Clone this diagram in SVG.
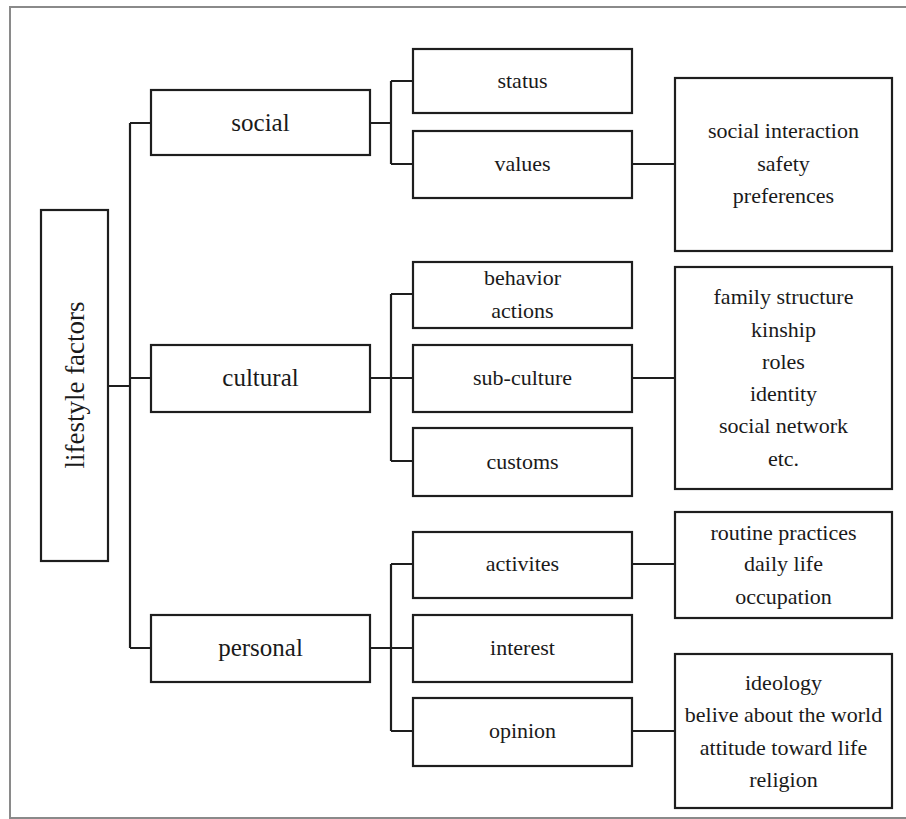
<svg xmlns="http://www.w3.org/2000/svg" width="906" height="819" viewBox="0 0 906 819">
  <style>
    .box { fill: #ffffff; stroke: #1e1e1e; stroke-width: 2.2; }
    .wire { fill: none; stroke: #1e1e1e; stroke-width: 2.2; }
    .frame { fill: none; stroke: #8a8a8a; stroke-width: 2; }
    text { font-family: "Liberation Serif", "Times New Roman", serif; fill: #1a1a1a; text-anchor: middle; }
    .t1 { font-size: 25px; }
    .t2 { font-size: 22px; }
    .t0 { font-size: 27px; }
  </style>
  <rect width="906" height="819" fill="#ffffff"/>
  <!-- outer frame (right side runs off the canvas) -->
  <rect class="frame" x="10" y="7" width="910" height="811"/>

  <!-- connectors -->
  <g id="connectors">
    <!-- root trunk -->
    <path class="wire" d="M108 386 H130 M130 123 V648 M130 123 H151 M130 378 H151 M130 648 H151"/>
    <!-- social bracket -->
    <path class="wire" d="M370 123 H391 M391 81 V164 M391 81 H413 M391 164 H413"/>
    <!-- cultural bracket -->
    <path class="wire" d="M370 378 H391 M391 294 V461 M391 294 H413 M391 378 H413 M391 461 H413"/>
    <!-- personal bracket -->
    <path class="wire" d="M370 648 H391 M391 564 V731 M391 564 H413 M391 648 H413 M391 731 H413"/>
    <!-- detail links -->
    <path class="wire" d="M632 164 H675 M632 378 H675 M632 564 H675 M632 731 H675"/>
  </g>

  <g id="lifestyle-factors">
    <rect class="box" x="41" y="210" width="67" height="351"/>
    <text class="t0" transform="translate(84 385) rotate(-90)">lifestyle factors</text>
  </g>

  <g id="social">
    <rect class="box" x="151" y="90" width="219" height="65"/>
    <text class="t1" x="260.5" y="131">social</text>
  </g>
  <g id="cultural">
    <rect class="box" x="151" y="345" width="219" height="67"/>
    <text class="t1" x="260.5" y="386">cultural</text>
  </g>
  <g id="personal">
    <rect class="box" x="151" y="615" width="219" height="67"/>
    <text class="t1" x="260.5" y="656">personal</text>
  </g>

  <g id="status">
    <rect class="box" x="413" y="49" width="219" height="64"/>
    <text class="t2" x="522.5" y="88">status</text>
  </g>
  <g id="values">
    <rect class="box" x="413" y="131" width="219" height="67"/>
    <text class="t2" x="522.5" y="171">values</text>
  </g>
  <g id="behavior">
    <rect class="box" x="413" y="262" width="219" height="66"/>
    <text class="t2" x="522.5" y="285">behavior</text>
    <text class="t2" x="522.5" y="318">actions</text>
  </g>
  <g id="sub-culture">
    <rect class="box" x="413" y="345" width="219" height="67"/>
    <text class="t2" x="522.5" y="385">sub-culture</text>
  </g>
  <g id="customs">
    <rect class="box" x="413" y="428" width="219" height="68"/>
    <text class="t2" x="522.5" y="469">customs</text>
  </g>
  <g id="activites">
    <rect class="box" x="413" y="532" width="219" height="66"/>
    <text class="t2" x="522.5" y="571">activites</text>
  </g>
  <g id="interest">
    <rect class="box" x="413" y="615" width="219" height="67"/>
    <text class="t2" x="522.5" y="655">interest</text>
  </g>
  <g id="opinion">
    <rect class="box" x="413" y="698" width="219" height="68"/>
    <text class="t2" x="522.5" y="738">opinion</text>
  </g>

  <g id="values-detail">
    <rect class="box" x="675" y="78" width="217" height="173"/>
    <text class="t2" x="783.5" y="138">social interaction</text>
    <text class="t2" x="783.5" y="171">safety</text>
    <text class="t2" x="783.5" y="203">preferences</text>
  </g>
  <g id="sub-culture-detail">
    <rect class="box" x="675" y="267" width="217" height="222"/>
    <text class="t2" x="783.5" y="304">family structure</text>
    <text class="t2" x="783.5" y="337">kinship</text>
    <text class="t2" x="783.5" y="369">roles</text>
    <text class="t2" x="783.5" y="401">identity</text>
    <text class="t2" x="783.5" y="433">social network</text>
    <text class="t2" x="783.5" y="466">etc.</text>
  </g>
  <g id="activites-detail">
    <rect class="box" x="675" y="512" width="217" height="106"/>
    <text class="t2" x="783.5" y="540">routine practices</text>
    <text class="t2" x="783.5" y="571">daily life</text>
    <text class="t2" x="783.5" y="604">occupation</text>
  </g>
  <g id="opinion-detail">
    <rect class="box" x="675" y="654" width="217" height="154"/>
    <text class="t2" x="783.5" y="690">ideology</text>
    <text class="t2" x="783.5" y="722">belive about the world</text>
    <text class="t2" x="783.5" y="755">attitude toward life</text>
    <text class="t2" x="783.5" y="787">religion</text>
  </g>
</svg>
